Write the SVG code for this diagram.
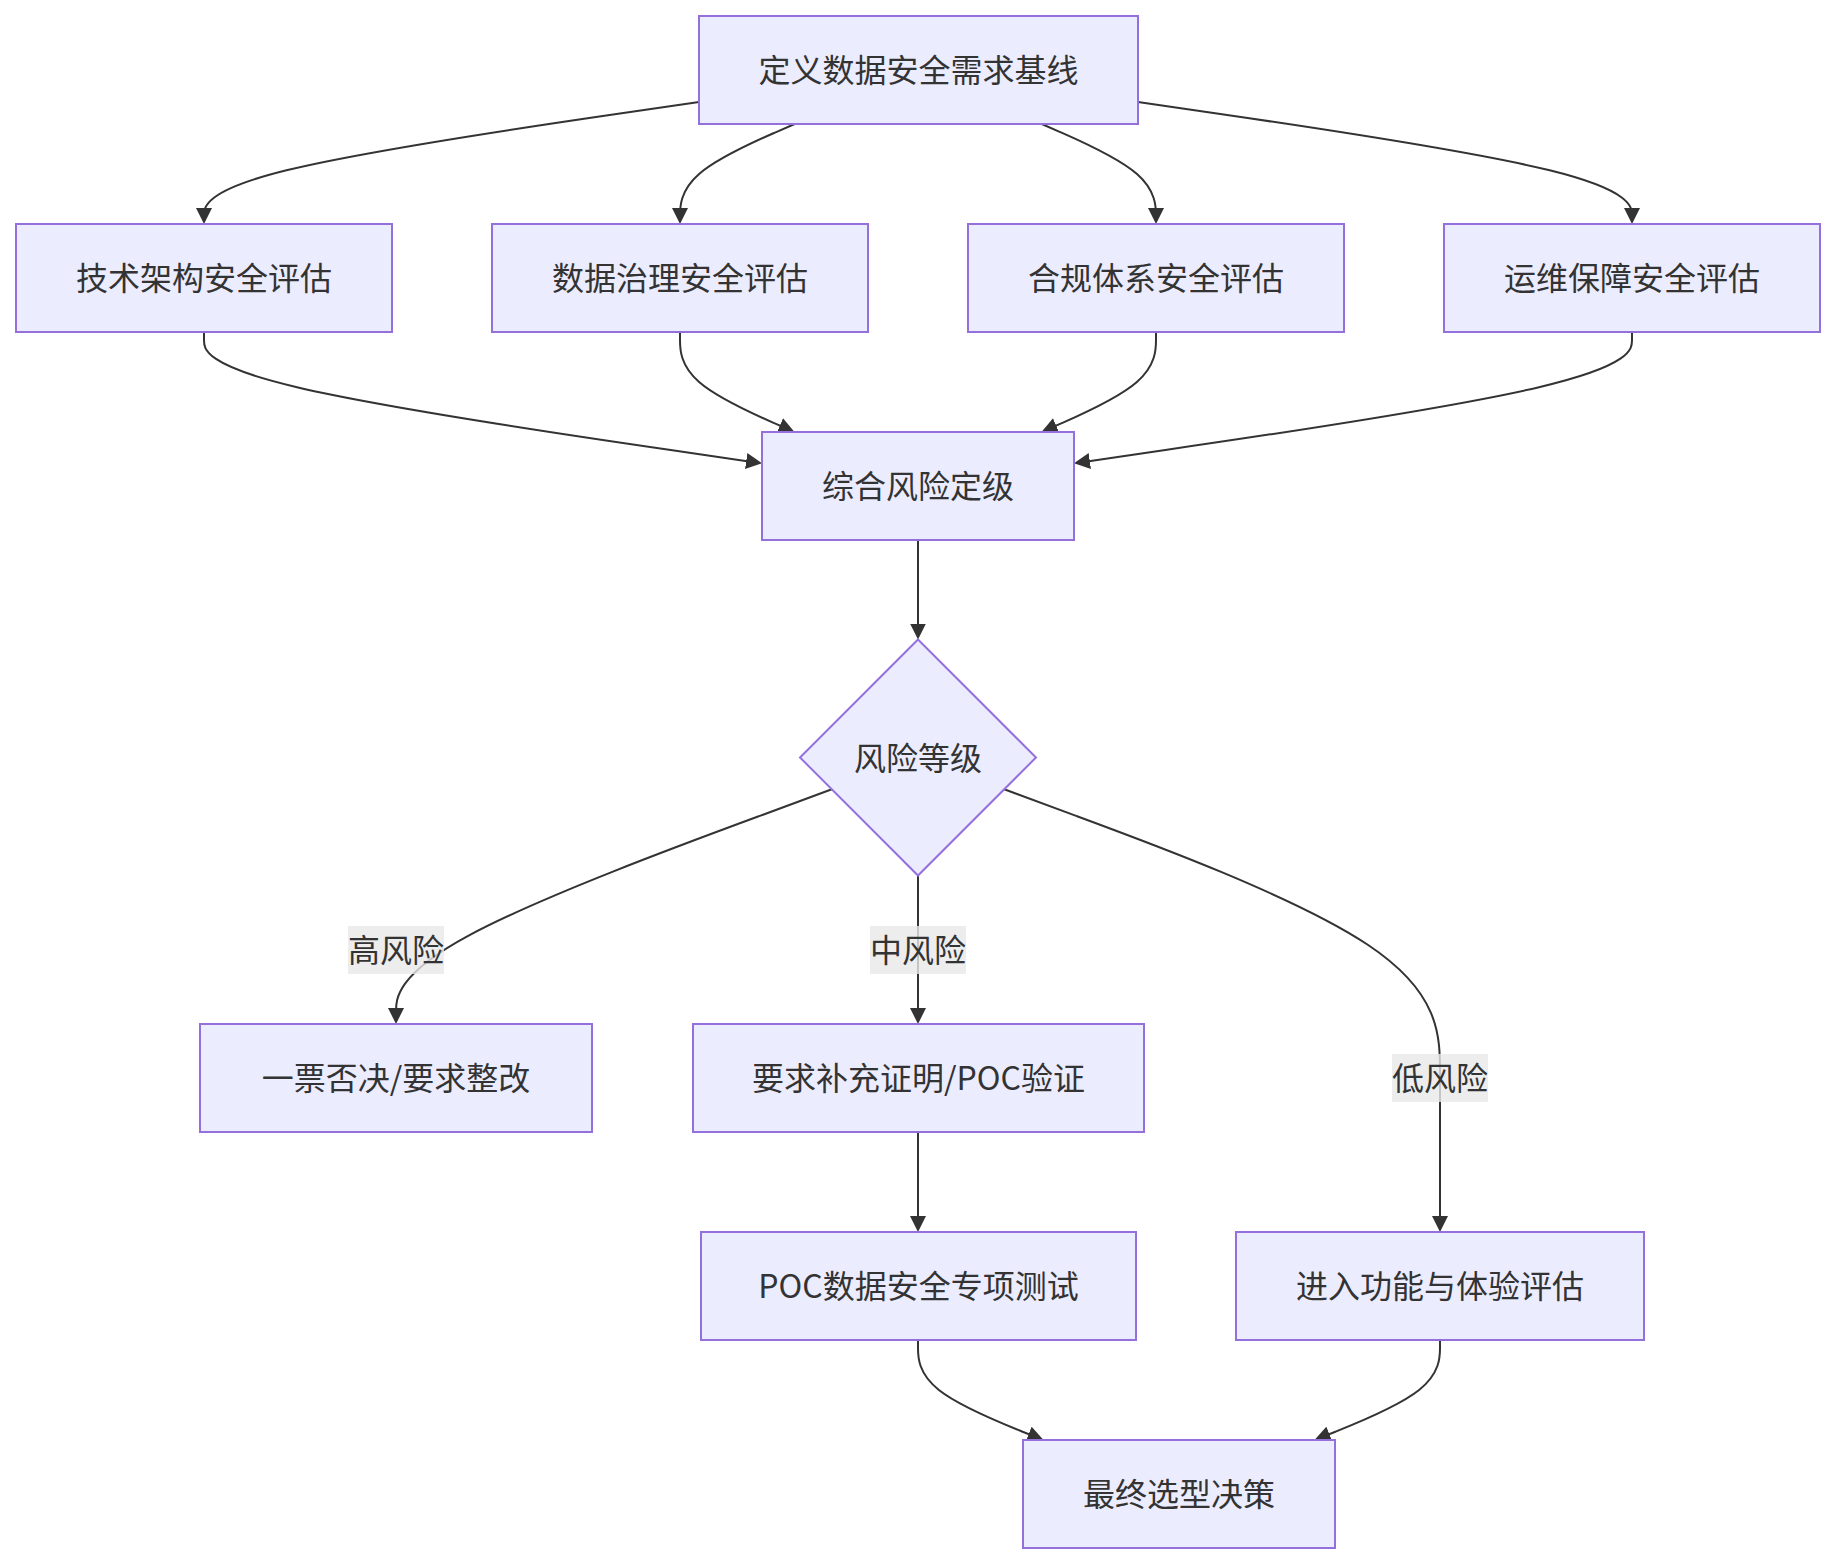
<svg xmlns="http://www.w3.org/2000/svg" width="1836" height="1564" viewBox="0 0 1836 1564">
<style>
.node rect, .node polygon { fill: #ECECFF; stroke: #9370DB; stroke-width: 2; }
.node text, .elabel text { font-family: "Noto Sans CJK SC", "Noto Sans", sans-serif; font-size: 32px; fill: #333333; text-anchor: middle; dominant-baseline: central; }
.edges path { fill: none; stroke: #333333; stroke-width: 2; marker-end: url(#arrow); }
.elabel rect { fill: #e8e8e8; fill-opacity: 0.8; }
</style>
<defs>
<marker id="arrow" viewBox="0 0 10 10" refX="8.1" refY="5" markerWidth="16" markerHeight="16" markerUnits="userSpaceOnUse" orient="auto">
<path d="M0,0 L10,5 L0,10 z" fill="#333333"/>
</marker>
</defs>
<rect width="1836" height="1564" fill="#ffffff"/>
<g id="connectors" class="edges">
<path d="M699,102 L616.5,114 C534,126 369,150 286.5,170.3 C204,190.7 204,207.3 204,215.7 L204,221"/>
<path d="M794.7,124 L775.6,132.3 C756.5,140.7 718.2,157.3 699.1,174 C680,190.7 680,207.3 680,215.7 L680,221"/>
<path d="M1041.8,124 L1060.8,132.3 C1079.9,140.7 1117.9,157.3 1137,174 C1156,190.7 1156,207.3 1156,215.7 L1156,221"/>
<path d="M1138,102 L1220.3,114 C1302.7,126 1467.3,150 1549.7,170.3 C1632,190.7 1632,207.3 1632,215.7 L1632,221"/>
<path d="M204,332 L204,340.3 C204,348.7 204,365.3 297,387.2 C390,409.1 576,436.2 669,449.7 L759,462.9"/>
<path d="M680,332 L680,340.3 C680,348.7 680,365.3 699.1,382 C718.1,398.7 756.3,415.3 775.4,423.7 L791.7,430.8"/>
<path d="M1156,332 L1156,340.3 C1156,348.7 1156,365.3 1136.9,382 C1117.9,398.7 1079.7,415.3 1060.6,423.7 L1044.3,430.8"/>
<path d="M1632,332 L1632,340.3 C1632,348.7 1632,365.3 1539,387.2 C1446,409.1 1260,436.2 1167,449.7 L1077,462.9"/>
<path d="M918,540 L918,636.5"/>
<path d="M831.8,789.3 L759.2,816.1 C686.5,842.9 541.3,896.4 468.6,935.6 C396,974.7 396,999.3 396,1011.7 L396,1021"/>
<path d="M918,875.5 L918,1021"/>
<path d="M1004.2,789.3 L1076.8,816.1 C1149.5,842.9 1294.7,896.4 1367.4,944.5 C1440,992.7 1440,1035.3 1440,1074 L1440,1229"/>
<path d="M918,1132 L918,1229"/>
<path d="M918,1340 L918,1348.3 C918,1356.7 918,1373.3 938.9,1390 C959.8,1406.7 1001.7,1423.3 1022.6,1431.7 L1040.7,1438.9"/>
<path d="M1440,1340 L1440,1348.3 C1440,1356.7 1440,1373.3 1419.1,1390 C1398.2,1406.7 1356.4,1423.3 1335.4,1431.7 L1317.3,1438.9"/>
</g>
<g id="edge-label-high" class="elabel"><rect x="348" y="926" width="96" height="48"/><text x="396" y="948">高风险</text></g>
<g id="edge-label-mid" class="elabel"><rect x="870" y="926" width="96" height="48"/><text x="918" y="948">中风险</text></g>
<g id="edge-label-low" class="elabel"><rect x="1392" y="1054" width="96" height="48"/><text x="1440" y="1076">低风险</text></g>
<g id="node-A" class="node"><rect x="699" y="16" width="439" height="108"/><text x="918.5" y="68">定义数据安全需求基线</text></g>
<g id="node-B1" class="node"><rect x="16" y="224" width="376" height="108"/><text x="204" y="276">技术架构安全评估</text></g>
<g id="node-B2" class="node"><rect x="492" y="224" width="376" height="108"/><text x="680" y="276">数据治理安全评估</text></g>
<g id="node-B3" class="node"><rect x="968" y="224" width="376" height="108"/><text x="1156" y="276">合规体系安全评估</text></g>
<g id="node-B4" class="node"><rect x="1444" y="224" width="376" height="108"/><text x="1632" y="276">运维保障安全评估</text></g>
<g id="node-C" class="node"><rect x="762" y="432" width="312" height="108"/><text x="918" y="484">综合风险定级</text></g>
<g id="node-D" class="node"><polygon points="918,639.5 1036,757.5 918,875.5 800,757.5"/><text x="918" y="755.5">风险等级</text></g>
<g id="node-E1" class="node"><rect x="200" y="1024" width="392" height="108"/><text x="396" y="1076">一票否决/要求整改</text></g>
<g id="node-E2" class="node"><rect x="693" y="1024" width="451" height="108"/><text x="918.5" y="1076">要求补充证明/POC验证</text></g>
<g id="node-F1" class="node"><rect x="701" y="1232" width="435" height="108"/><text x="918.5" y="1284">POC数据安全专项测试</text></g>
<g id="node-F2" class="node"><rect x="1236" y="1232" width="408" height="108"/><text x="1440" y="1284">进入功能与体验评估</text></g>
<g id="node-G" class="node"><rect x="1023" y="1440" width="312" height="108"/><text x="1179" y="1492">最终选型决策</text></g>
</svg>
